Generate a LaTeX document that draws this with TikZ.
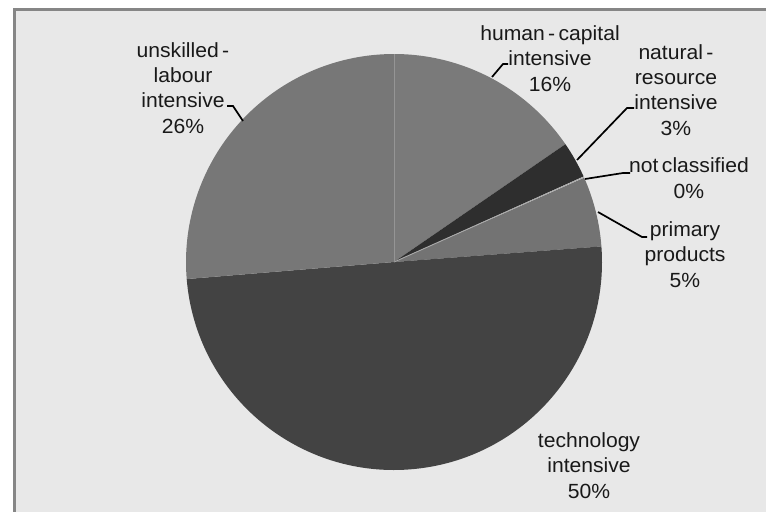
\documentclass[tikz,border=0pt]{standalone}
\usepackage{fontspec}
\newfontfamily\chartfont[FakeStretch=1.03]{Liberation Sans}
\usetikzlibrary{positioning,calc}

\begin{document}
\begin{tikzpicture}[x=1pt,y=-1pt]
    \def\pierad{208}
    \definecolor{colframe}{HTML}{868686}
    \definecolor{colback}{HTML}{E8E8E8}
    \definecolor{colunsk}{HTML}{777777}
    \definecolor{colhuman}{HTML}{7A7A7A}
    \definecolor{colnat}{HTML}{2E2E2E}
    \definecolor{colnotcl}{HTML}{A8A8A8}
    \definecolor{colprim}{HTML}{737373}
    \definecolor{coltech}{HTML}{434343}
    \tikzstyle{lbl}=[align=center,anchor=base,inner sep=0pt,text=black!90,
                     font=\chartfont\fontsize{20.5}{25.3}\selectfont]
    \tikzstyle{leader}=[black,line width=1.7pt]
    \useasboundingbox (0,0) rectangle (766,512);
    % frame
    \fill[white] (0,0) rectangle (766,512);
    \fill[colback] (13,8) rectangle (766,512);
    \fill[colframe] (13,8) rectangle (766,11);
    \fill[colframe] (13,8) rectangle (16,512);
    % pie
    \coordinate (ctr) at (394,262);
    \fill[colhuman] (ctr) -- ++(-90:\pierad) arc[start angle=-90,end angle=-34.5,radius=\pierad] -- cycle;
    \fill[colnat] (ctr) -- ++(-34.5:\pierad) arc[start angle=-34.5,end angle=-24.3,radius=\pierad] -- cycle;
    \fill[colprim] (ctr) -- ++(-23.9:\pierad) arc[start angle=-23.9,end angle=-4.3,radius=\pierad] -- cycle;
    \fill[coltech] (ctr) -- ++(-4.3:\pierad) arc[start angle=-4.3,end angle=175.3,radius=\pierad] -- cycle;
    \fill[colunsk] (ctr) -- ++(175.3:\pierad) arc[start angle=175.3,end angle=270,radius=\pierad] -- cycle;
    \draw[colnotcl,line width=0.9pt] (ctr) -- ++(-24.1:\pierad);
    \draw[colhuman!80!white,line width=0.5pt] (ctr) -- ++(-90:\pierad);
    % labels (anchored at the baseline of the last line)
    \node[lbl] (unsk) at (183,133) {unskilled\,-\\labour\\intensive\\26\%};
    \node[lbl] (human) at (550,91) {human\,-\,capital\\intensive\\16\%};
    \node[lbl] (natres) at (676,135) {natural\,-\\resource\\intensive\\3\%};
    \node[lbl] (notcl) at (689,198) {not\,classified\\0\%};
    \node[lbl] (prim) at (685,287) {primary\\products\\5\%};
    \node[lbl] (tech) at (589,498) {technology\\intensive\\50\%};
    % leaders
    \coordinate (unskP) at (243,121);
    \coordinate (unskE) at (227,106);
    \draw[leader] (unskP) -- (233,106) -- (unskE);
    \coordinate (humanP) at (492,77);
    \coordinate (humanE) at (508,64);
    \draw[leader] (humanP) -- (503,64) -- (humanE);
    \coordinate (natresP) at (577,160);
    \coordinate (natresE) at (634,108);
    \draw[leader] (natresP) -- (627,108) -- (natresE);
    \coordinate (notclP) at (585,179);
    \coordinate (notclE) at (630,173);
    \draw[leader] (notclP) -- (623,173) -- (notclE);
    \coordinate (primP) at (598,212);
    \coordinate (primE) at (647,237);
    \draw[leader] (primP) -- (642,237) -- (primE);
\end{tikzpicture}
\end{document}
